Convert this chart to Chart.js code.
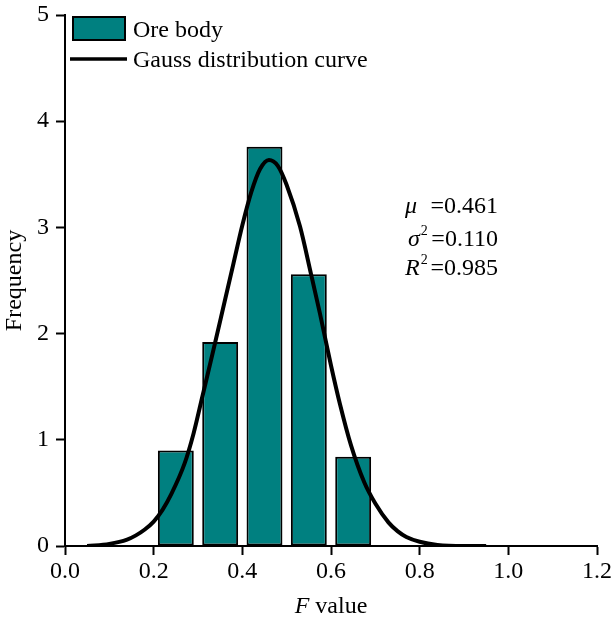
<!DOCTYPE html>
<html>
<head>
<meta charset="utf-8">
<script src="https://cdn.jsdelivr.net/npm/chart.js@4/dist/chart.umd.min.js"></script>
<style>
  html, body { margin: 0; padding: 0; background: #ffffff; }
  #wrap { width: 611px; height: 619px; position: relative; }
</style>
</head>
<body>
<div id="wrap"><canvas id="c" width="611" height="619"></canvas></div>
<script>
// ---- data ----
const binCenters = [0.25, 0.35, 0.45, 0.55, 0.65];
const frequencies = [0.90, 1.92, 3.76, 2.56, 0.84];

const curveX = [0.05, 0.10, 0.14, 0.16, 0.18, 0.20, 0.22, 0.24, 0.27, 0.29, 0.31, 0.335, 0.36, 0.38, 0.40, 0.42, 0.44, 0.46, 0.48, 0.50, 0.53, 0.555, 0.575, 0.60, 0.62, 0.645, 0.675, 0.70, 0.73, 0.75, 0.77, 0.80, 0.84, 0.90, 0.95];
const curveY = [0.00, 0.02, 0.06, 0.10, 0.155, 0.23, 0.34, 0.49, 0.78, 1.06, 1.41, 1.85, 2.30, 2.66, 3.02, 3.33, 3.55, 3.635, 3.58, 3.40, 3.01, 2.56, 2.19, 1.70, 1.34, 0.95, 0.60, 0.40, 0.22, 0.14, 0.085, 0.04, 0.01, 0.00, 0.00];

const seriesLabels = ['Ore body', 'Gauss distribution curve'];
const xAxisTitle = ['F', ' value'];
const yAxisTitle = 'Frequency';
const statsLines = [
  { sym: 'μ', sup: '', val: ' =0.461' },
  { sym: 'σ', sup: '2', val: '=0.110' },
  { sym: 'R', sup: '2', val: '=0.985' }
];

const FONT = '"Liberation Serif", "Times New Roman", serif';
const TEAL = '#008080';

const barData = binCenters.map((x, i) => ({ x: x, y: frequencies[i] }));
const lineData = curveX.map((x, i) => ({ x: x, y: curveY[i] }));

const overlay = {
  id: 'overlay',
  afterDraw(chart) {
    const ctx = chart.ctx;
    ctx.save();
    ctx.textBaseline = 'alphabetic';
    // legend
    ctx.fillStyle = TEAL;
    ctx.fillRect(73, 17, 52, 23);
    ctx.strokeStyle = '#000';
    ctx.lineWidth = 2;
    ctx.strokeRect(73, 17, 52, 23);
    ctx.beginPath();
    ctx.lineWidth = 3.5;
    ctx.moveTo(70, 59);
    ctx.lineTo(127, 59);
    ctx.stroke();
    ctx.fillStyle = '#000';
    ctx.font = '24px ' + FONT;
    ctx.textAlign = 'left';
    ctx.fillText(chart.data.datasets[0].label, 133, 37);
    ctx.fillText(chart.data.datasets[1].label, 133, 67);

    // stats block
    const rows = [
      { x: 405, base: 213 },
      { x: 408, base: 246 },
      { x: 405, base: 275 }
    ];
    statsLines.forEach((s, i) => {
      const r = rows[i];
      ctx.textAlign = 'left';
      ctx.font = 'italic 24px ' + FONT;
      ctx.fillText(s.sym, r.x, r.base);
      const sw = ctx.measureText(s.sym).width;
      if (s.sup) {
        ctx.font = '14px ' + FONT;
        ctx.fillText(s.sup, r.x + sw + 1, r.base - 11);
      }
      ctx.font = '24px ' + FONT;
      ctx.textAlign = 'right';
      ctx.fillText(s.val, 498, r.base);
    });

    // x title with italic F
    ctx.textAlign = 'left';
    ctx.font = 'italic 24px ' + FONT;
    const w1 = ctx.measureText(xAxisTitle[0]).width;
    ctx.font = '24px ' + FONT;
    const w2 = ctx.measureText(xAxisTitle[1]).width;
    const cx = (chart.chartArea.left + chart.chartArea.right) / 2;
    const sx = cx - (w1 + w2) / 2;
    ctx.font = 'italic 24px ' + FONT;
    ctx.fillText(xAxisTitle[0], sx, 613);
    ctx.font = '24px ' + FONT;
    ctx.fillText(xAxisTitle[1], sx + w1, 613);
    ctx.restore();
  }
};

new Chart(document.getElementById('c'), {
  type: 'bar',
  data: {
    datasets: [
      {
        type: 'bar',
        label: seriesLabels[0],
        data: barData,
        backgroundColor: TEAL,
        borderColor: '#000',
        borderWidth: 2,
        borderSkipped: false,
        barPercentage: 0.81,
        categoryPercentage: 1.0,
        order: 2
      },
      {
        type: 'line',
        label: seriesLabels[1],
        data: lineData,
        borderColor: '#000',
        borderWidth: 4,
        pointRadius: 0,
        fill: false,
        cubicInterpolationMode: 'monotone',
        order: 1
      }
    ]
  },
  options: {
    responsive: false,
    animation: false,
    devicePixelRatio: 1,
    layout: { padding: 0 },
    plugins: {
      legend: { display: false },
      tooltip: { enabled: false }
    },
    scales: {
      x: {
        type: 'linear',
        min: 0,
        max: 1.2,
        offset: false,
        afterFit(scale) { scale.height = 73; scale.paddingRight = 14; scale.paddingLeft = 0; },
        ticks: {
          stepSize: 0.2,
          color: '#000',
          font: { family: FONT, size: 24 },
          padding: 2,
          maxRotation: 0,
          callback: (v) => Number(v).toFixed(1)
        },
        grid: { display: true, drawOnChartArea: false, drawTicks: true, tickLength: 9, tickColor: '#000', tickWidth: 2, offset: false },
        border: { display: true, color: '#000', width: 2 },
        title: { display: false }
      },
      y: {
        min: 0,
        max: 5,
        afterFit(scale) { scale.width = 65; scale.paddingTop = 15; scale.paddingBottom = 0; },
        ticks: {
          stepSize: 1,
          color: '#000',
          font: { family: FONT, size: 24 },
          padding: 7
        },
        grid: { display: true, drawOnChartArea: false, drawTicks: true, tickLength: 9, tickColor: '#000', tickWidth: 2 },
        border: { display: true, color: '#000', width: 2 },
        title: {
          display: true,
          text: yAxisTitle,
          color: '#000',
          font: { family: FONT, size: 24 },
          padding: { top: 0, bottom: 0 }
        }
      }
    }
  },
  plugins: [overlay]
});
</script>
</body>
</html>
